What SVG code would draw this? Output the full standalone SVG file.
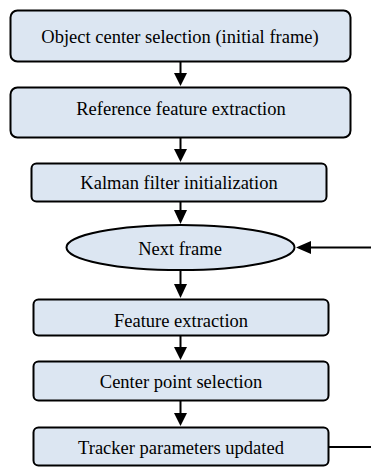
<svg xmlns="http://www.w3.org/2000/svg" width="371" height="467" viewBox="0 0 371 467">
<style>
.n{fill:#dce6f2;stroke:#000;stroke-width:2}
.c{stroke:#000;stroke-width:2;fill:none}
.h{fill:#000}
</style>
<rect width="371" height="467" fill="#fff"/>
<g font-family="Liberation Serif, serif" font-size="18.5" text-anchor="middle" fill="#000">
<g id="n1"><rect class="n" x="10.5" y="10.5" width="340" height="51" rx="7"/><text x="180" y="43">Object center selection (initial frame)</text></g>
<g id="n2"><rect class="n" x="10.5" y="87.5" width="340" height="50" rx="7"/><text x="181" y="115">Reference feature extraction</text></g>
<g id="n3"><rect class="n" x="31.5" y="163.5" width="295" height="38" rx="5"/><text x="179" y="189">Kalman filter initialization</text></g>
<g id="n4"><ellipse class="n" cx="180.5" cy="247.5" rx="114" ry="22.5"/><text x="180" y="255">Next frame</text></g>
<g id="n5"><rect class="n" x="33.5" y="299.5" width="295" height="36" rx="5"/><text x="181" y="327">Feature extraction</text></g>
<g id="n6"><rect class="n" x="33.5" y="361.5" width="295" height="39" rx="5"/><text x="181" y="388">Center point selection</text></g>
<g id="n7"><rect class="n" x="33.5" y="427.5" width="295" height="38" rx="5"/><text x="181" y="454">Tracker parameters updated</text></g>
</g>
<g id="connectors">
<line class="c" x1="180.5" y1="62" x2="180.5" y2="74"/><polygon class="h" points="174,73 187,73 180.5,86"/>
<line class="c" x1="180.5" y1="138" x2="180.5" y2="150"/><polygon class="h" points="174,149 187,149 180.5,162"/>
<line class="c" x1="180.5" y1="202" x2="180.5" y2="211"/><polygon class="h" points="174,210 187,210 180.5,224"/>
<line class="c" x1="180.5" y1="270" x2="180.5" y2="285"/><polygon class="h" points="174,284 187,284 180.5,298"/>
<line class="c" x1="180.5" y1="336" x2="180.5" y2="348"/><polygon class="h" points="174,347 187,347 180.5,360"/>
<line class="c" x1="180.5" y1="401" x2="180.5" y2="414"/><polygon class="h" points="174,413 187,413 180.5,426"/>
<line class="c" x1="371" y1="247.5" x2="310" y2="247.5"/><polygon class="h" points="311,241 311,254 296,247.5"/>
<line class="c" x1="329" y1="447" x2="371" y2="447"/>
</g>
</svg>
